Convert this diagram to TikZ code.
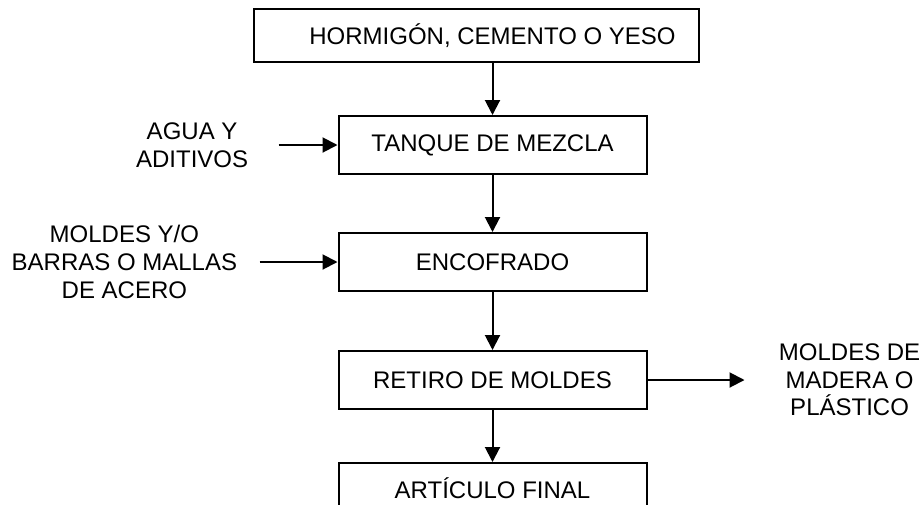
\documentclass[tikz,border=0pt]{standalone}
\usepackage{fontspec}
\setmainfont{Liberation Sans}
\usetikzlibrary{arrows.meta, positioning}

\begin{document}
\begin{tikzpicture}[
    x=0.5pt, y=0.5pt,
    box/.style={rectangle, draw=black, line width=1pt, minimum width=154pt, minimum height=29pt, inner sep=0pt, text centered, font=\fontsize{12}{13.8}\selectfont},
    input/.style={align=center, inner sep=0pt, font=\fontsize{12}{13.8}\selectfont},
    arrow/.style={-{Triangle[length=7.5pt,width=7.5pt]}, line width=1pt}
]
\path[use as bounding box] (0,0) rectangle (919,-504);

% Process chain
\node[box] (tanque) at (492.5,-145) {TANQUE DE MEZCLA};
\node[box, minimum width=222.5pt, minimum height=26.5pt, above=26pt of tanque, xshift=-8pt] (hormigon) {\hspace*{16pt}HORMIGÓN, CEMENTO O YESO};
\node[box, below=28.5pt of tanque] (encofrado) {ENCOFRADO};
\node[box, below=29pt of encofrado] (retiro) {RETIRO DE MOLDES};
\node[box, minimum height=25pt, below=26pt of retiro] (articulo) {ARTÍCULO FINAL};

% Inputs and output
\node[input, left=44.5pt of tanque] (agua) {AGUA Y\\ADITIVOS};
\node[input, left=50pt of encofrado] (moldes) {MOLDES Y/O\\BARRAS O MALLAS\\DE ACERO};
\node[input, right=65.5pt of retiro] (salida) {MOLDES DE\\MADERA O\\PLÁSTICO};

% Arrows
\draw[arrow] (hormigon.south -| tanque.north) -- (tanque.north);
\draw[arrow] (tanque) -- (encofrado);
\draw[arrow] (encofrado) -- (retiro);
\draw[arrow] (retiro) -- (articulo);
\draw[arrow, shorten <=15pt] (agua) -- (tanque);
\draw[arrow, shorten <=11pt] (moldes) -- (encofrado);
\draw[arrow, shorten >=17pt] (retiro) -- (salida);

\end{tikzpicture}
\end{document}
